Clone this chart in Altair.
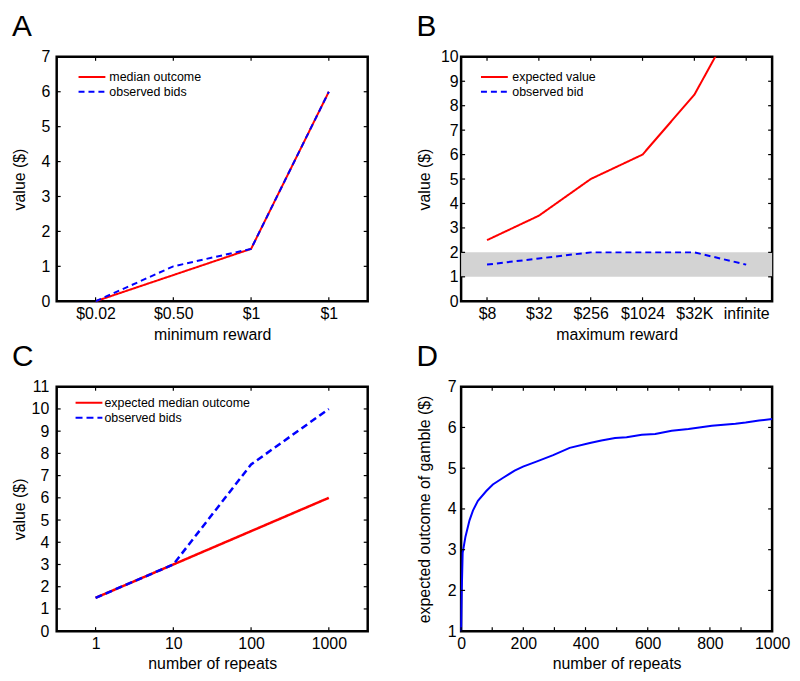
import json
import altair as alt
import pandas as pd

FONT = "Liberation Sans"
W, H = 313, 246
TICK = 4
RED = "#ff0000"
BLUE = "#0000ff"

# ---------------- Panel A ----------------
a_labels = ["$0.02", "$0.50", "$1", "$1"]
a_pos = [1, 2, 3, 4]
a_median = [0.0, 0.75, 1.5, 6.0]
a_bids = [0.0, 1.0, 1.5, 6.0]
a_series = ["median outcome", "observed bids"]
a_yticks = [0, 1, 2, 3, 4, 5, 6, 7]

# ---------------- Panel B ----------------
b_labels = ["$8", "$32", "$256", "$1024", "$32K", "infinite"]
b_pos = [1, 2, 3, 4, 5, 6]
b_expected = [2.5, 3.5, 5.0, 6.0, 8.45, 12.3]
b_bid = [1.5, 1.75, 2.0, 2.0, 2.0, 1.5]
b_band_low = [1.0]
b_band_high = [2.0]
b_series = ["expected value", "observed bid"]
b_yticks = [0, 1, 2, 3, 4, 5, 6, 7, 8, 9, 10]

# ---------------- Panel C ----------------
c_repeats = [1, 10, 100, 1000]
c_median = [1.5, 3.0, 4.5, 6.0]
c_bids = [1.5, 3.0, 7.5, 10.0]
c_series = ["expected median outcome", "observed bids"]
c_yticks = [0, 1, 2, 3, 4, 5, 6, 7, 8, 9, 10, 11]

# ---------------- Panel D ----------------
d_repeats = [0, 1, 2, 5, 14, 27, 38, 54, 81, 102, 134, 172, 199, 242, 296,
             349, 414, 451, 495, 532, 581, 624, 677, 731, 806, 882, 915, 958, 1000]
d_outcome = [1.0, 1.5, 1.96, 2.92, 3.32, 3.72, 3.96, 4.2, 4.44, 4.6, 4.76, 4.94,
             5.04, 5.16, 5.32, 5.5, 5.62, 5.68, 5.74, 5.76, 5.82, 5.84, 5.92,
             5.96, 6.04, 6.09, 6.12, 6.17, 6.21]
d_xlabels = [0, 200, 400, 600, 800, 1000]
d_xticks = [0, 100, 200, 300, 400, 500, 600, 700, 800, 900, 1000]
d_yticks = [1, 2, 3, 4, 5, 6, 7]


def long_df(x, ys, names):
    rows = []
    for name, y in zip(names, ys):
        for xi, yi in zip(x, y):
            rows.append({"x": xi, "y": yi, "series": name})
    return pd.DataFrame(rows)


def make_legend(lx, ly, loff):
    return alt.Legend(title=None, orient="none", legendX=lx, legendY=ly,
                      direction="vertical", symbolType="M-6.25,0H20.75",
                      symbolSize=4, symbolStrokeWidth=2, labelFont=FONT,
                      labelFontSize=12.5, labelColor="black", labelOffset=loff,
                      padding=0, rowPadding=2)


def inner_ticks(xvals, yvals, xscale, yscale, xaxis, yaxis):
    dfx = pd.DataFrame({"t": xvals})
    dfy = pd.DataFrame({"t": yvals})
    bx = alt.Chart(dfx).mark_rule(color="black", strokeWidth=1.2)
    by = alt.Chart(dfy).mark_rule(color="black", strokeWidth=1.2)
    xe = alt.X("t:Q", scale=xscale, axis=xaxis)
    ye = alt.Y("t:Q", scale=yscale, axis=yaxis)
    return [
        bx.encode(x=xe, y=alt.value(H - TICK), y2=alt.value(H)),
        bx.encode(x=xe, y=alt.value(0), y2=alt.value(TICK)),
        by.encode(y=ye, x=alt.value(0), x2=alt.value(TICK)),
        by.encode(y=ye, x=alt.value(W - TICK), x2=alt.value(W)),
    ]


def title(letter):
    return alt.TitleParams(text=letter, anchor="start", font=FONT, fontSize=30,
                           fontWeight="normal", color="black", offset=4, dy=-3)


def series_enc(names, legend, dash):
    return dict(
        color=alt.Color("series:N", scale=alt.Scale(domain=names, range=[RED, BLUE]),
                        legend=legend),
        strokeDash=alt.StrokeDash("series:N",
                                  scale=alt.Scale(domain=names, range=[[1, 0], dash]),
                                  legend=legend),
    )


# ---- A ----
ax_scale = alt.Scale(domain=[0.5, 4.5], nice=False, zero=False)
ay_scale = alt.Scale(domain=[0, 7], nice=False)
a_xaxis = alt.Axis(title="minimum reward", values=a_pos,
                   labelExpr=f"{json.dumps(a_labels)}[datum.value - 1]")
a_yaxis = alt.Axis(title="value ($)", values=a_yticks, labelPadding=7)
a_df = long_df(a_pos, [a_median, a_bids], a_series)
a_leg = make_legend(22, 14, 18.5)
a_lines = alt.Chart(a_df).mark_line(strokeWidth=2).encode(
    x=alt.X("x:Q", scale=ax_scale, axis=a_xaxis),
    y=alt.Y("y:Q", scale=ay_scale, axis=a_yaxis),
    **series_enc(a_series, a_leg, [6, 4]),
)
panel_a = alt.layer(
    a_lines, *inner_ticks(a_pos, a_yticks, ax_scale, ay_scale, a_xaxis, a_yaxis)
).properties(width=W, height=H, title=title("A"))

# ---- B ----
bx_scale = alt.Scale(domain=[0.5, 6.5], nice=False, zero=False)
by_scale = alt.Scale(domain=[0, 10], nice=False)
b_xaxis = alt.Axis(title="maximum reward", values=b_pos,
                   labelExpr=f"{json.dumps(b_labels)}[datum.value - 1]")
b_yaxis = alt.Axis(title="value ($)", values=b_yticks, labelPadding=3)
b_band = alt.Chart(pd.DataFrame({"lo": b_band_low, "hi": b_band_high})).mark_rect(
    color="#d3d3d3").encode(
    y=alt.Y("lo:Q", scale=by_scale, axis=b_yaxis), y2="hi:Q",
    x=alt.value(0), x2=alt.value(W))
b_df = long_df(b_pos, [b_expected, b_bid], b_series)
b_leg = make_legend(20, 14, 19)
b_lines = alt.Chart(b_df).mark_line(strokeWidth=2, clip=True).encode(
    x=alt.X("x:Q", scale=bx_scale, axis=b_xaxis),
    y=alt.Y("y:Q", scale=by_scale, axis=b_yaxis),
    **series_enc(b_series, b_leg, [6, 4]),
)
panel_b = alt.layer(
    b_band, b_lines, *inner_ticks(b_pos, b_yticks, bx_scale, by_scale, b_xaxis, b_yaxis)
).properties(width=W, height=H, title=title("B"))

# ---- C ----
cx_scale = alt.Scale(type="log", domain=[10 ** -0.5, 10 ** 3.5], nice=False)
cy_scale = alt.Scale(domain=[0, 11], nice=False)
c_xaxis = alt.Axis(title="number of repeats", values=c_repeats, format="d")
c_yaxis = alt.Axis(title="value ($)", values=c_yticks, labelPadding=8)
c_df = long_df(c_repeats, [c_median, c_bids], c_series)
c_leg = make_legend(19, 10, 16.5)
c_lines = alt.Chart(c_df).mark_line(strokeWidth=2.5).encode(
    x=alt.X("x:Q", scale=cx_scale, axis=c_xaxis),
    y=alt.Y("y:Q", scale=cy_scale, axis=c_yaxis),
    **series_enc(c_series, c_leg, [7, 4]),
)
panel_c = alt.layer(
    c_lines, *inner_ticks(c_repeats, c_yticks, cx_scale, cy_scale, c_xaxis, c_yaxis)
).properties(width=W, height=H, title=title("C"))

# ---- D ----
dx_scale = alt.Scale(domain=[0, 1000], nice=False)
dy_scale = alt.Scale(domain=[1, 7], nice=False, zero=False)
d_xaxis = alt.Axis(title="number of repeats", values=d_xlabels, format="d")
d_yaxis = alt.Axis(title="expected outcome of gamble ($)", values=d_yticks, labelPadding=5)
d_df = pd.DataFrame({"x": d_repeats, "y": d_outcome})
d_line = alt.Chart(d_df).mark_line(color=BLUE, strokeWidth=2).encode(
    x=alt.X("x:Q", scale=dx_scale, axis=d_xaxis),
    y=alt.Y("y:Q", scale=dy_scale, axis=d_yaxis),
)
panel_d = alt.layer(
    d_line, *inner_ticks(d_xticks, d_yticks, dx_scale, dy_scale, d_xaxis, d_yaxis)
).properties(width=W, height=H, title=title("D"))

row1 = alt.hconcat(panel_a, panel_b, spacing=45).resolve_scale(
    color="independent", strokeDash="independent").resolve_legend(
    color="independent", strokeDash="independent")
row2 = alt.hconcat(panel_c, panel_d, spacing=45).resolve_scale(
    color="independent", strokeDash="independent").resolve_legend(
    color="independent", strokeDash="independent")

chart = alt.vconcat(row1, row2, spacing=-4).resolve_scale(
    color="independent", strokeDash="independent").resolve_legend(
    color="independent", strokeDash="independent").properties(
    padding={"left": 2, "top": 0, "right": 0, "bottom": 0},
    background="white",
).configure_view(
    stroke="black", strokeWidth=2.5
).configure_axis(
    domain=False, ticks=False, tickSize=0, grid=False, labelFlush=False,
    labelFont=FONT, labelFontSize=16, labelColor="black",
    titleFont=FONT, titleFontSize=16, titleFontWeight="normal", titleColor="black",
).configure_axisX(
    labelPadding=4, minExtent=20, maxExtent=20, titlePadding=5,
).configure_axisY(
    minExtent=20, maxExtent=20, titlePadding=9,
)

chart.save("out.html", embed_options={"renderer": "svg", "actions": False})
